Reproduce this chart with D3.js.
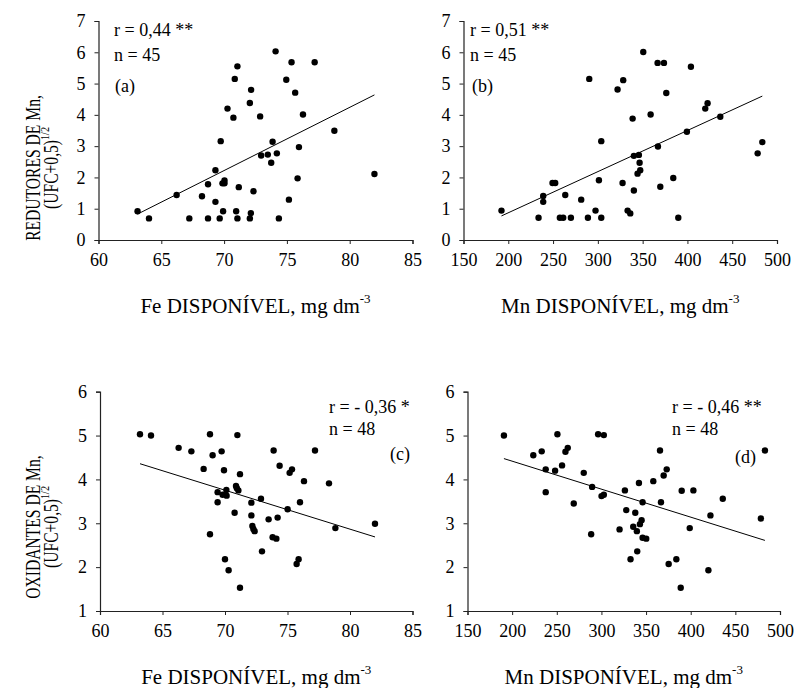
<!DOCTYPE html>
<html>
<head>
<meta charset="utf-8">
<script src="https://cdn.jsdelivr.net/npm/d3@7"></script>
<style>
  body { margin: 0; background: #fff; }
</style>
</head>
<body>
<svg id="chart" width="795" height="688"></svg>
<script>
// ---------- DATA ----------
const feTicks = [60, 65, 70, 75, 80, 85];
const mnTicks = [150, 200, 250, 300, 350, 400, 450, 500];
const yTicksTop = [0, 1, 2, 3, 4, 5, 6, 7];
const yTicksBottom = [1, 2, 3, 4, 5, 6];

// (a) Fe vs redutores
const aX = [63.11, 64.02, 66.22, 67.23, 68.24, 68.72, 68.72, 69.31, 69.31, 69.65, 69.73, 69.87, 70.03, 70.03, 69.92,
  70.27, 70.74, 70.85, 71.06, 70.96, 71.06, 71.17, 72.05, 72.15, 72.05, 72.13, 72.34, 72.87, 72.95, 73.48,
  73.75, 73.86, 74.10, 74.20, 74.36, 74.95, 75.16, 75.37, 75.66, 75.85, 75.96, 76.28, 77.21, 78.78, 81.97];
const aY = [0.92, 0.69, 1.44, 0.69, 1.40, 1.78, 0.69, 2.23, 1.22, 0.69, 3.16, 1.81, 1.90, 1.81, 0.92,
  4.20, 3.91, 5.15, 5.55, 0.92, 0.69, 1.69, 4.38, 4.80, 0.69, 0.86, 1.56, 3.95, 2.70, 2.73,
  2.47, 3.14, 6.03, 2.77, 0.69, 5.12, 1.29, 5.68, 4.71, 1.97, 2.97, 4.01, 5.68, 3.49, 2.11];

// (b) Mn vs redutores
const bX = [192.4, 233.8, 239.0, 239.0, 249.4, 252.4, 257.6, 261.3, 263.6, 269.9, 281.4, 288.9, 290.4, 297.4, 301.2,
  303.8, 303.8, 322.0, 327.6, 328.3, 333.2, 336.2, 338.8, 340.2, 340.2, 344.3, 345.8, 346.6, 347.3, 350.7,
  358.9, 366.7, 367.1, 369.7, 373.8, 376.4, 384.2, 389.8, 399.4, 403.9, 419.9, 422.5, 436.7, 478.4, 483.6];
const bY = [0.94, 0.71, 1.41, 1.22, 1.82, 1.82, 0.71, 0.71, 1.44, 0.71, 1.29, 0.71, 5.15, 0.94, 1.91,
  0.71, 3.16, 4.81, 1.82, 5.11, 0.94, 0.85, 3.88, 1.58, 2.69, 2.12, 2.72, 2.47, 2.23, 6.01,
  4.01, 5.66, 2.99, 1.70, 5.66, 4.70, 1.98, 0.71, 3.46, 5.54, 4.20, 4.37, 3.94, 2.77, 3.13];

// (c) Fe vs oxidantes
const cX = [63.20, 64.08, 66.29, 67.31, 68.29, 68.80, 68.80, 69.01, 69.41, 69.41, 69.73, 69.81, 69.92, 70.00, 70.11,
  70.13, 70.29, 70.77, 70.88, 70.95, 70.99, 71.07, 71.20, 71.20, 72.11, 72.11, 72.19, 72.27, 72.37, 72.88,
  72.96, 73.49, 73.89, 73.81, 74.11, 74.21, 74.37, 75.01, 75.17, 75.36, 75.73, 75.89, 76.00, 76.32, 77.20,
  78.32, 78.83, 82.00];
const cY = [5.03, 5.00, 4.72, 4.64, 4.24, 5.03, 2.75, 4.55, 3.71, 3.48, 4.64, 3.65, 4.21, 2.18, 3.76,
  3.63, 1.93, 3.24, 3.85, 3.80, 5.01, 3.75, 4.12, 1.53, 3.47, 3.18, 2.94, 2.87, 2.82, 3.56,
  2.36, 3.09, 4.66, 2.68, 2.65, 3.13, 4.31, 3.32, 4.15, 4.23, 2.07, 2.18, 3.48, 3.96, 4.66,
  3.91, 2.89, 2.99];

// (d) Mn vs oxidantes
const dX = [190.8, 223.7, 233.1, 237.6, 237.6, 248.1, 250.7, 255.9, 259.7, 262.3, 269.0, 280.2, 288.5, 289.6, 296.3,
  300.1, 302.7, 302.7, 320.3, 326.3, 327.8, 332.6, 335.6, 337.9, 339.7, 340.1, 342.0, 343.1, 345.0, 346.1,
  346.1, 350.2, 358.1, 365.6, 366.7, 369.7, 373.1, 375.3, 383.9, 388.8, 389.9, 398.9, 403.0, 419.8, 422.1,
  435.9, 478.6, 483.1];
const dY = [5.00, 4.55, 4.64, 4.23, 3.71, 4.20, 5.03, 4.32, 4.63, 4.72, 3.45, 4.15, 2.75, 3.83, 5.03,
  3.62, 5.01, 3.65, 2.86, 3.75, 3.30, 2.18, 2.92, 3.24, 2.82, 2.36, 3.92, 2.98, 3.07, 3.48,
  2.67, 2.65, 3.96, 4.66, 3.48, 4.09, 4.23, 2.07, 2.18, 1.53, 3.74, 2.89, 3.75, 1.93, 3.18,
  3.56, 3.11, 4.66];

// regression lines: [intercept, slope]
const fitA = [-11.92, 0.202];
const fitB = [-1.76, 0.01315];
const fitC = [9.97, -0.0888];
const fitD = [5.692, -0.00638];

const rLabels = ["r = 0,44 **", "r = 0,51 **", "r = - 0,36 *", "r = - 0,46 **"];
const nLabels = ["n = 45", "n = 45", "n = 48", "n = 48"];
const panelLetters = ["(a)", "(b)", "(c)", "(d)"];
const xTitles = ["Fe DISPONÍVEL, mg dm", "Mn DISPONÍVEL, mg dm"];
const xTitleSup = "-3";
const yTitles = ["REDUTORES DE Mn,", "OXIDANTES DE Mn,"];
const yTitle2 = "(UFC+0,5)";
const yTitleSup = "1/2";

// ---------- LAYOUT ----------
const FONT = "'Liberation Serif', 'Times New Roman', 'DejaVu Serif', serif";
const svg = d3.select("#chart");
const panels = [
  { xs: aX, ys: aY, fit: fitA, xd: [60, 85], yd: [0, 7], xt: feTicks, yt: yTicksTop,
    x0: 98.5, x1: 412.5, y0: 240, y1: 21, ann: [114, 36, 114, 61, 115, 92] },
  { xs: bX, ys: bY, fit: fitB, xd: [150, 500], yd: [0, 7], xt: mnTicks, yt: yTicksTop,
    x0: 463.5, x1: 777, y0: 240, y1: 21, ann: [470, 36, 470, 61, 472, 92] },
  { xs: cX, ys: cY, fit: fitC, xd: [60, 85], yd: [1, 6], xt: feTicks, yt: yTicksBottom,
    x0: 100, x1: 412.5, y0: 611, y1: 391.7, ann: [329, 413, 329, 435, 390, 460] },
  { xs: dX, ys: dY, fit: fitD, xd: [150, 500], yd: [1, 6], xt: mnTicks, yt: yTicksBottom,
    x0: 467.5, x1: 780, y0: 611, y1: 391.7, ann: [672, 413, 672, 435, 735, 463] }
];

const tickFont = 18, annFont = 18, titleFont = 21;

function txt(sel) { return sel.attr("font-family", FONT).style("font-family", FONT).attr("fill", "#000"); }

panels.forEach((p, i) => {
  const x = d3.scaleLinear().domain(p.xd).range([p.x0, p.x1]);
  const y = d3.scaleLinear().domain(p.yd).range([p.y0, p.y1]);
  const g = svg.append("g");

  const xa = g.append("g").attr("transform", `translate(0,${p.y0})`)
    .call(d3.axisBottom(x).tickValues(p.xt).tickSize(4).tickPadding(9).tickFormat(d3.format("d")));
  const ya = g.append("g").attr("transform", `translate(${p.x0},0)`)
    .call(d3.axisLeft(y).tickValues(p.yt).tickSize(4).tickPadding(9).tickFormat(d3.format("d")));
  [xa, ya].forEach(a => {
    a.attr("font-family", FONT).attr("font-size", tickFont);
    a.selectAll("path").attr("stroke", "#222").attr("stroke-width", 1.2);
    a.selectAll("line").attr("stroke", "#222");
    txt(a.selectAll("text")).attr("font-size", tickFont);
  });

  // regression line
  const xmin = d3.min(p.xs), xmax = d3.max(p.xs);
  g.append("line")
    .attr("x1", x(xmin)).attr("y1", y(p.fit[0] + p.fit[1] * xmin))
    .attr("x2", x(xmax)).attr("y2", y(p.fit[0] + p.fit[1] * xmax))
    .attr("stroke", "#000").attr("stroke-width", 1);

  // points
  g.selectAll("circle").data(p.xs.map((v, k) => [v, p.ys[k]])).join("circle")
    .attr("cx", d => x(d[0])).attr("cy", d => y(d[1])).attr("r", 3.2).attr("fill", "#000");

  // annotations
  txt(g.append("text")).attr("x", p.ann[0]).attr("y", p.ann[1]).attr("font-size", annFont).text(rLabels[i]);
  txt(g.append("text")).attr("x", p.ann[2]).attr("y", p.ann[3]).attr("font-size", annFont).text(nLabels[i]);
  txt(g.append("text")).attr("x", p.ann[4]).attr("y", p.ann[5]).attr("font-size", annFont).text(panelLetters[i]);

  // x title
  const xt = txt(g.append("text")).attr("x", (p.x0 + p.x1) / 2).attr("y", p.y0 + 73)
    .attr("text-anchor", "middle").attr("font-size", titleFont);
  xt.append("tspan").text(xTitles[i % 2]);
  xt.append("tspan").attr("font-size", 13).attr("dy", -10).text(xTitleSup);
});

// y titles (compressed along their length, as in the reference)
[[168, 0], [527, 1]].forEach(([cy, k]) => {
  const g = svg.append("g").attr("transform", `translate(0,${cy}) rotate(-90) scale(0.78,1)`);
  txt(g.append("text")).attr("x", 0).attr("y", 40).attr("text-anchor", "middle")
    .attr("font-size", 20).text(yTitles[k]);
  const t = txt(g.append("text")).attr("x", 0).attr("y", 58).attr("text-anchor", "middle")
    .attr("font-size", 20);
  t.append("tspan").text(yTitle2);
  t.append("tspan").attr("font-size", 13).attr("dy", -9).text(yTitleSup);
});
</script>
</body>
</html>
